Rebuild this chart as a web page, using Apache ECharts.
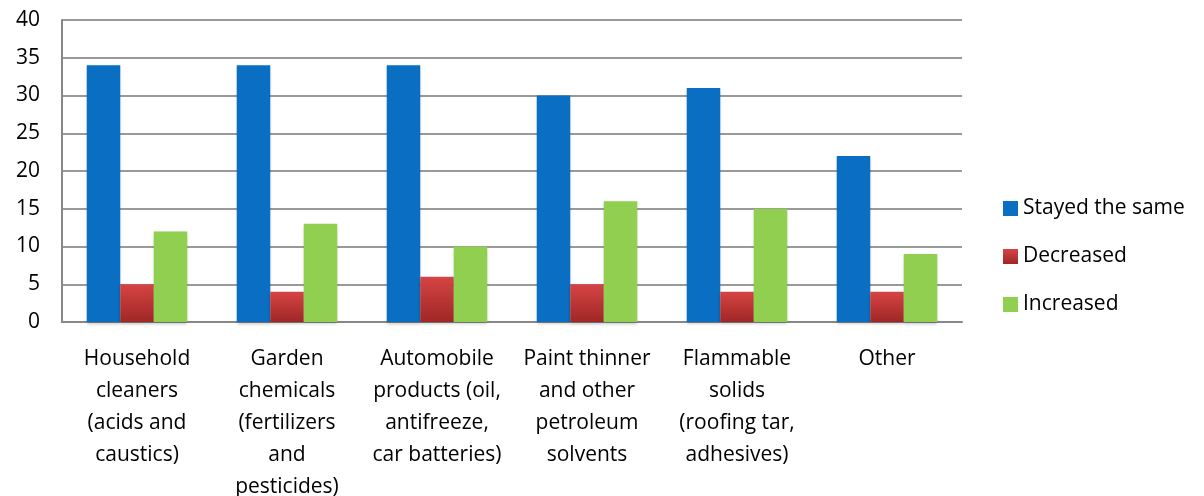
<!DOCTYPE html>
<html>
<head>
<meta charset="utf-8">
<script src="https://cdn.jsdelivr.net/npm/echarts@6/dist/echarts.min.js"></script>
<style>
  html, body { margin: 0; padding: 0; background: #fff; }
  #chart { width: 1204px; height: 496px; }
</style>
</head>
<body>
<div id="chart"></div>
<script>
// Household hazardous waste categories (wrapped for the axis)
const categories = [
  'Household\ncleaners\n(acids and\ncaustics)',
  'Garden\nchemicals\n(fertilizers\nand\npesticides)',
  'Automobile\nproducts (oil,\nantifreeze,\ncar batteries)',
  'Paint thinner\nand other\npetroleum\nsolvents',
  'Flammable\nsolids\n(roofing tar,\nadhesives)',
  'Other'
];
const seriesNames = ['Stayed the same', 'Decreased', 'Increased'];
const stayedSame = [34, 34, 34, 30, 31, 22];
const decreased  = [5, 4, 6, 5, 4, 4];
const increased  = [12, 13, 10, 16, 15, 9];

const FONT = '"Open Sans", Lato, sans-serif';

const redFill = new echarts.graphic.LinearGradient(0, 0, 0, 1, [
  { offset: 0, color: '#d64444' },
  { offset: 1, color: '#a02626' }
]);

const barShadow = {
  shadowColor: 'rgba(0,0,0,0.25)',
  shadowBlur: 3,
  shadowOffsetY: 2
};

const chart = echarts.init(document.getElementById('chart'));
chart.setOption({
  animation: false,
  textStyle: { fontFamily: FONT },
  grid: { left: 62, right: 242, top: 20, bottom: 174, containLabel: false, outerBoundsMode: 'none' },
  legend: {
    orient: 'vertical',
    left: 998,
    top: 193,
    itemWidth: 15,
    itemHeight: 15,
    itemGap: 27,
    icon: 'rect',
    textStyle: { fontFamily: FONT, fontSize: 21, color: '#000', padding: [0, 0, 0, 0] },
    data: seriesNames
  },
  xAxis: {
    type: 'category',
    data: categories,
    axisLine: { show: true, lineStyle: { color: '#888', width: 2 } },
    axisTick: { show: false },
    axisLabel: {
      interval: 0,
      margin: 21,
      fontFamily: FONT,
      fontSize: 21,
      lineHeight: 32,
      color: '#000',
      align: 'center'
    }
  },
  yAxis: {
    type: 'value',
    min: 0,
    max: 40,
    interval: 5,
    axisLine: { show: true, lineStyle: { color: '#888', width: 2 } },
    axisTick: { show: false },
    axisLabel: { margin: 22, fontFamily: FONT, fontSize: 21, color: '#000' },
    splitLine: { lineStyle: { color: '#999', width: 2 } }
  },
  series: [
    {
      name: seriesNames[0],
      type: 'bar',
      data: stayedSame,
      barGap: '0%',
      barCategoryGap: '33%',
      itemStyle: Object.assign({ color: '#0a6fc2' }, barShadow)
    },
    {
      name: seriesNames[1],
      type: 'bar',
      data: decreased,
      itemStyle: Object.assign({ color: redFill }, barShadow)
    },
    {
      name: seriesNames[2],
      type: 'bar',
      data: increased,
      itemStyle: Object.assign({ color: '#90cf4f' }, barShadow)
    }
  ]
});
</script>
</body>
</html>
